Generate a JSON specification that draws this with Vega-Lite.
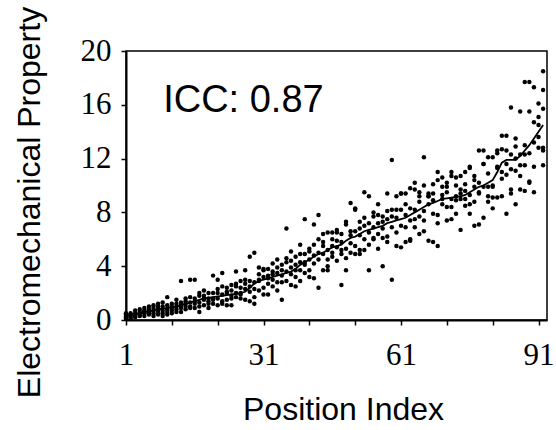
{
  "$schema": "https://vega.github.io/schema/vega-lite/v6.json",
  "width": 421,
  "height": 269,
  "autosize": {"type": "none"},
  "padding": {"left": 126, "top": 51, "right": 9, "bottom": 110},
  "background": "white",
  "config": {
    "view": {"stroke": "black", "strokeWidth": 1.5},
    "axis": {"grid": false, "domainColor": "black", "domainWidth": 2, "tickColor": "black", "tickWidth": 1.5, "tickSize": 5,
      "labelFont": "Liberation Serif", "labelFontSize": 31, "labelColor": "black",
      "titleFont": "Liberation Sans", "titleFontSize": 32, "titleFontWeight": "normal", "titleColor": "black"}
  },
  "datasets": {
    "pts": [
      {"x":1,"y":0.1},{"x":1,"y":0.2},{"x":1,"y":0.3},{"x":1,"y":0.4},{"x":1,"y":0.5},
      {"x":2,"y":0.1},{"x":2,"y":0.3},{"x":2,"y":0.4},{"x":2,"y":0.5},{"x":2,"y":0.2},
      {"x":3,"y":0.2},{"x":3,"y":0.4},{"x":3,"y":0.5},{"x":3,"y":0.7},{"x":3,"y":0.3},
      {"x":4,"y":0.3},{"x":4,"y":0.5},{"x":4,"y":0.6},{"x":4,"y":0.8},{"x":4,"y":0.4},
      {"x":5,"y":0.3},{"x":5,"y":0.5},{"x":5,"y":0.7},{"x":5,"y":0.9},{"x":5,"y":0.6},
      {"x":6,"y":0.4},{"x":6,"y":0.6},{"x":6,"y":0.8},{"x":6,"y":1.0},{"x":6,"y":0.5},
      {"x":7,"y":0.5},{"x":7,"y":0.7},{"x":7,"y":0.9},{"x":7,"y":1.1},{"x":7,"y":0.3},
      {"x":8,"y":0.4},{"x":8,"y":0.8},{"x":8,"y":1.0},{"x":8,"y":1.2},{"x":8,"y":0.6},
      {"x":9,"y":0.5},{"x":9,"y":0.7},{"x":9,"y":1.0},{"x":9,"y":1.3},{"x":9,"y":0.3},
      {"x":10,"y":0.6},{"x":10,"y":0.8},{"x":10,"y":1.1},{"x":10,"y":1.7},{"x":10,"y":0.4},
      {"x":11,"y":0.7},{"x":11,"y":0.9},{"x":11,"y":1.2},{"x":11,"y":0.5},{"x":11,"y":1.0},
      {"x":12,"y":0.8},{"x":12,"y":1.0},{"x":12,"y":1.5},{"x":12,"y":0.6},{"x":12,"y":1.2},
      {"x":13,"y":0.6},{"x":13,"y":1.1},{"x":13,"y":1.3},{"x":13,"y":2.9},{"x":13,"y":0.9},
      {"x":14,"y":0.8},{"x":14,"y":1.2},{"x":14,"y":1.6},{"x":14,"y":1.0},{"x":14,"y":1.4},
      {"x":15,"y":1.0},{"x":15,"y":1.3},{"x":15,"y":1.7},{"x":15,"y":3.0},{"x":15,"y":0.9},
      {"x":16,"y":0.9},{"x":16,"y":1.2},{"x":16,"y":1.6},{"x":16,"y":3.0},{"x":16,"y":1.4},
      {"x":17,"y":0.6},{"x":17,"y":1.3},{"x":17,"y":1.8},{"x":17,"y":2.0},{"x":17,"y":1.0},
      {"x":18,"y":1.1},{"x":18,"y":1.5},{"x":18,"y":1.8},{"x":18,"y":1.6},{"x":18,"y":2.2},
      {"x":19,"y":1.2},{"x":19,"y":1.6},{"x":19,"y":2.0},{"x":19,"y":1.4},{"x":19,"y":0.9},
      {"x":20,"y":1.2},{"x":20,"y":1.6},{"x":20,"y":2.0},{"x":20,"y":3.3},{"x":20,"y":1.5},
      {"x":21,"y":1.1},{"x":21,"y":2.0},{"x":21,"y":3.0},{"x":21,"y":1.6},{"x":21,"y":2.3},
      {"x":22,"y":1.4},{"x":22,"y":2.5},{"x":22,"y":3.5},{"x":22,"y":1.9},{"x":22,"y":1.2},
      {"x":23,"y":1.5},{"x":23,"y":2.1},{"x":23,"y":2.4},{"x":23,"y":2.0},{"x":23,"y":1.1},
      {"x":24,"y":1.1},{"x":24,"y":1.6},{"x":24,"y":2.6},{"x":24,"y":2.2},{"x":24,"y":1.8},
      {"x":25,"y":2.0},{"x":25,"y":3.6},{"x":25,"y":1.7},{"x":25,"y":2.5},{"x":25,"y":2.7},
      {"x":26,"y":1.6},{"x":26,"y":2.4},{"x":26,"y":2.9},{"x":26,"y":2.0},{"x":26,"y":1.9},
      {"x":27,"y":1.5},{"x":27,"y":3.0},{"x":27,"y":3.7},{"x":27,"y":2.3},{"x":27,"y":2.7},
      {"x":28,"y":1.4},{"x":28,"y":2.5},{"x":28,"y":4.7},{"x":28,"y":2.1},{"x":28,"y":2.9},
      {"x":29,"y":1.2},{"x":29,"y":1.7},{"x":29,"y":5.0},{"x":29,"y":2.8},{"x":29,"y":2.3},
      {"x":30,"y":2.9},{"x":30,"y":3.0},{"x":30,"y":3.4},{"x":30,"y":2.2},{"x":30,"y":3.9},
      {"x":31,"y":3.7},{"x":31,"y":2.4},{"x":31,"y":3.8},{"x":31,"y":1.9},{"x":31,"y":3.2},
      {"x":32,"y":3.3},{"x":32,"y":3.8},{"x":32,"y":3.1},{"x":32,"y":1.9},{"x":32,"y":2.7},
      {"x":33,"y":3.0},{"x":33,"y":3.6},{"x":33,"y":2.5},{"x":33,"y":4.2},{"x":33,"y":3.4},
      {"x":34,"y":2.2},{"x":34,"y":4.5},{"x":34,"y":3.5},{"x":34,"y":2.8},{"x":34,"y":3.9},
      {"x":35,"y":1.5},{"x":35,"y":2.8},{"x":35,"y":3.7},{"x":35,"y":4.1},{"x":35,"y":3.3},
      {"x":36,"y":6.8},{"x":36,"y":4.3},{"x":36,"y":2.9},{"x":36,"y":3.6},{"x":36,"y":4.6},
      {"x":37,"y":5.1},{"x":37,"y":2.6},{"x":37,"y":3.9},{"x":37,"y":3.4},{"x":37,"y":4.4},
      {"x":38,"y":3.2},{"x":38,"y":4.7},{"x":38,"y":3.7},{"x":38,"y":2.5},{"x":38,"y":4.1},
      {"x":39,"y":5.6},{"x":39,"y":3.7},{"x":39,"y":2.9},{"x":39,"y":4.3},{"x":39,"y":4.9},
      {"x":40,"y":7.5},{"x":40,"y":4.3},{"x":40,"y":3.5},{"x":40,"y":4.9},{"x":40,"y":4.1},
      {"x":41,"y":5.3},{"x":41,"y":5.1},{"x":41,"y":3.7},{"x":41,"y":4.5},{"x":41,"y":3.2},
      {"x":42,"y":7.1},{"x":42,"y":4.8},{"x":42,"y":3.1},{"x":42,"y":5.6},{"x":42,"y":4.2},
      {"x":43,"y":7.8},{"x":43,"y":6.0},{"x":43,"y":4.5},{"x":43,"y":2.4},{"x":43,"y":5.0},
      {"x":44,"y":6.4},{"x":44,"y":5.5},{"x":44,"y":3.7},{"x":44,"y":4.9},{"x":44,"y":5.8},
      {"x":45,"y":6.5},{"x":45,"y":4.5},{"x":45,"y":3.7},{"x":45,"y":5.2},{"x":45,"y":4.0},
      {"x":46,"y":6.5},{"x":46,"y":5.5},{"x":46,"y":4.7},{"x":46,"y":6.0},{"x":46,"y":5.0},
      {"x":47,"y":6.5},{"x":47,"y":5.4},{"x":47,"y":6.7},{"x":47,"y":4.4},{"x":47,"y":5.9},
      {"x":48,"y":6.4},{"x":48,"y":2.6},{"x":48,"y":5.2},{"x":48,"y":5.8},{"x":48,"y":4.9},
      {"x":49,"y":7.3},{"x":49,"y":7.1},{"x":49,"y":4.6},{"x":49,"y":3.7},{"x":49,"y":5.3},
      {"x":50,"y":8.7},{"x":50,"y":5.7},{"x":50,"y":6.3},{"x":50,"y":5.0},{"x":50,"y":6.6},
      {"x":51,"y":5.5},{"x":51,"y":8.3},{"x":51,"y":8.2},{"x":51,"y":4.9},{"x":51,"y":6.6},
      {"x":52,"y":6.3},{"x":52,"y":7.3},{"x":52,"y":5.2},{"x":52,"y":4.9},{"x":52,"y":6.8},
      {"x":53,"y":9.5},{"x":53,"y":5.2},{"x":53,"y":6.0},{"x":53,"y":7.0},{"x":53,"y":7.6},
      {"x":54,"y":9.2},{"x":54,"y":7.2},{"x":54,"y":5.6},{"x":54,"y":3.7},{"x":54,"y":6.5},
      {"x":55,"y":7.7},{"x":55,"y":6.0},{"x":55,"y":6.1},{"x":55,"y":6.9},{"x":55,"y":8.0},
      {"x":56,"y":7.8},{"x":56,"y":6.4},{"x":56,"y":5.3},{"x":56,"y":7.2},{"x":56,"y":8.6},
      {"x":57,"y":7.7},{"x":57,"y":4.0},{"x":57,"y":6.8},{"x":57,"y":7.3},{"x":57,"y":6.1},
      {"x":58,"y":8.1},{"x":58,"y":9.4},{"x":58,"y":6.2},{"x":58,"y":5.8},{"x":58,"y":7.5},
      {"x":59,"y":8.2},{"x":59,"y":11.9},{"x":59,"y":3.0},{"x":59,"y":6.9},{"x":59,"y":7.7},
      {"x":60,"y":8.2},{"x":60,"y":6.5},{"x":60,"y":7.6},{"x":60,"y":5.5},{"x":60,"y":9.2},
      {"x":61,"y":8.2},{"x":61,"y":5.4},{"x":61,"y":9.4},{"x":61,"y":9.4},{"x":61,"y":7.0},
      {"x":62,"y":9.4},{"x":62,"y":5.8},{"x":62,"y":7.8},{"x":62,"y":8.6},{"x":62,"y":6.9},
      {"x":63,"y":9.8},{"x":63,"y":5.9},{"x":63,"y":6.0},{"x":63,"y":8.3},{"x":63,"y":7.4},
      {"x":64,"y":9.7},{"x":64,"y":10.2},{"x":64,"y":6.9},{"x":64,"y":8.2},{"x":64,"y":7.5},
      {"x":65,"y":6.4},{"x":65,"y":9.2},{"x":65,"y":9.5},{"x":65,"y":8.8},{"x":65,"y":7.7},
      {"x":66,"y":7.4},{"x":66,"y":10.0},{"x":66,"y":12.1},{"x":66,"y":6.6},{"x":66,"y":8.1},
      {"x":67,"y":5.9},{"x":67,"y":9.2},{"x":67,"y":9.2},{"x":67,"y":8.6},{"x":67,"y":9.4},
      {"x":68,"y":5.8},{"x":68,"y":9.4},{"x":68,"y":8.9},{"x":68,"y":7.9},{"x":68,"y":10.1},
      {"x":69,"y":11.0},{"x":69,"y":5.5},{"x":69,"y":10.4},{"x":69,"y":7.8},{"x":69,"y":7.2},
      {"x":70,"y":9.9},{"x":70,"y":9.3},{"x":70,"y":8.6},{"x":70,"y":10.6},{"x":70,"y":9.0},
      {"x":71,"y":9.5},{"x":71,"y":9.9},{"x":71,"y":7.4},{"x":71,"y":8.4},{"x":71,"y":10.2},
      {"x":72,"y":7.5},{"x":72,"y":11.0},{"x":72,"y":10.7},{"x":72,"y":9.0},{"x":72,"y":8.4},
      {"x":73,"y":10.0},{"x":73,"y":10.6},{"x":73,"y":9.2},{"x":73,"y":8.9},{"x":73,"y":7.9},
      {"x":74,"y":6.7},{"x":74,"y":9.4},{"x":74,"y":10.7},{"x":74,"y":9.0},{"x":74,"y":9.7},
      {"x":75,"y":9.0},{"x":75,"y":8.5},{"x":75,"y":10.1},{"x":75,"y":9.6},{"x":75,"y":11.0},
      {"x":76,"y":11.3},{"x":76,"y":11.4},{"x":76,"y":8.6},{"x":76,"y":7.9},{"x":76,"y":9.3},
      {"x":77,"y":10.7},{"x":77,"y":9.9},{"x":77,"y":7.0},{"x":77,"y":10.4},{"x":77,"y":8.8},
      {"x":78,"y":12.6},{"x":78,"y":9.5},{"x":78,"y":9.4},{"x":78,"y":7.1},{"x":78,"y":10.2},
      {"x":79,"y":12.6},{"x":79,"y":11.6},{"x":79,"y":11.6},{"x":79,"y":7.6},{"x":79,"y":9.9},
      {"x":80,"y":9.9},{"x":80,"y":10.9},{"x":80,"y":12.1},{"x":80,"y":8.8},{"x":80,"y":9.2},
      {"x":81,"y":12.1},{"x":81,"y":10.0},{"x":81,"y":9.9},{"x":81,"y":8.3},{"x":81,"y":9.1},
      {"x":82,"y":12.4},{"x":82,"y":9.1},{"x":82,"y":11.4},{"x":82,"y":12.6},{"x":82,"y":11.3},
      {"x":83,"y":12.7},{"x":83,"y":13.7},{"x":83,"y":9.2},{"x":83,"y":11.0},{"x":83,"y":10.5},
      {"x":84,"y":13.7},{"x":84,"y":12.6},{"x":84,"y":7.9},{"x":84,"y":10.8},{"x":84,"y":11.6},
      {"x":85,"y":15.8},{"x":85,"y":12.3},{"x":85,"y":9.7},{"x":85,"y":9.4},{"x":85,"y":11.2},
      {"x":86,"y":13.5},{"x":86,"y":12.9},{"x":86,"y":8.6},{"x":86,"y":12.0},{"x":86,"y":11.1},
      {"x":87,"y":15.5},{"x":87,"y":9.7},{"x":87,"y":10.7},{"x":87,"y":12.3},{"x":87,"y":11.5},
      {"x":88,"y":17.7},{"x":88,"y":12.3},{"x":88,"y":9.6},{"x":88,"y":11.5},{"x":88,"y":13.0},
      {"x":89,"y":10.3},{"x":89,"y":15.5},{"x":89,"y":17.7},{"x":89,"y":10.2},{"x":89,"y":12.4},
      {"x":90,"y":17.3},{"x":90,"y":14.7},{"x":90,"y":11.4},{"x":90,"y":9.5},{"x":90,"y":13.2},
      {"x":91,"y":16.1},{"x":91,"y":15.1},{"x":91,"y":12.8},{"x":91,"y":13.6},{"x":91,"y":14.5},
      {"x":92,"y":12.8},{"x":92,"y":18.5},{"x":92,"y":15.7},{"x":92,"y":17.1},{"x":92,"y":12.6},{"x":92,"y":11.5}
    ],
    "mean": [
      {"x":1,"y":0.3},{"x":2,"y":0.35},{"x":3,"y":0.45},{"x":4,"y":0.5},{"x":5,"y":0.6},{"x":6,"y":0.65},{"x":7,"y":0.7},{"x":8,"y":0.8},{"x":9,"y":0.85},{"x":10,"y":0.9},
      {"x":11,"y":0.95},{"x":12,"y":1.0},{"x":13,"y":1.1},{"x":14,"y":1.2},{"x":15,"y":1.3},{"x":16,"y":1.4},{"x":17,"y":1.5},{"x":18,"y":1.6},{"x":19,"y":1.65},{"x":20,"y":1.7},
      {"x":21,"y":1.75},{"x":22,"y":1.8},{"x":23,"y":1.85},{"x":24,"y":1.9},{"x":25,"y":1.95},{"x":26,"y":2.0},{"x":27,"y":2.1},{"x":28,"y":2.4},{"x":29,"y":2.7},{"x":30,"y":2.9},
      {"x":31,"y":3.0},{"x":32,"y":3.1},{"x":33,"y":3.2},{"x":34,"y":3.3},{"x":35,"y":3.4},{"x":36,"y":3.5},{"x":37,"y":3.6},{"x":38,"y":3.8},{"x":39,"y":4.1},{"x":40,"y":4.3},
      {"x":41,"y":4.5},{"x":42,"y":4.7},{"x":43,"y":4.9},{"x":44,"y":5.0},{"x":45,"y":5.2},{"x":46,"y":5.4},{"x":47,"y":5.5},{"x":48,"y":5.6},{"x":49,"y":5.9},{"x":50,"y":6.1},
      {"x":51,"y":6.2},{"x":52,"y":6.4},{"x":53,"y":6.6},{"x":54,"y":6.7},{"x":55,"y":6.8},{"x":56,"y":6.9},{"x":57,"y":7.0},{"x":58,"y":7.2},{"x":59,"y":7.3},{"x":60,"y":7.4},
      {"x":61,"y":7.5},{"x":62,"y":7.6},{"x":63,"y":7.8},{"x":64,"y":8.0},{"x":65,"y":8.2},{"x":66,"y":8.4},{"x":67,"y":8.6},{"x":68,"y":8.7},{"x":69,"y":8.85},{"x":70,"y":9.0},
      {"x":71,"y":9.05},{"x":72,"y":9.1},{"x":73,"y":9.15},{"x":74,"y":9.2},{"x":75,"y":9.3},{"x":76,"y":9.5},{"x":77,"y":9.7},{"x":78,"y":9.9},{"x":79,"y":10.0},{"x":80,"y":10.2},
      {"x":81,"y":10.4},{"x":82,"y":11.0},{"x":83,"y":11.7},{"x":84,"y":11.9},{"x":85,"y":11.9},{"x":86,"y":11.9},{"x":87,"y":12.2},{"x":88,"y":12.6},{"x":89,"y":13.0},{"x":90,"y":13.5},
      {"x":91,"y":14.0},{"x":92,"y":14.5}
    ],
    "note": [{"x": 9.1, "y": 15.5, "label": "ICC: 0.87"}]
  },
  "layer": [
    {
      "data": {"name": "pts"},
      "mark": {"type": "point", "filled": true, "color": "black", "opacity": 1, "size": 20},
      "encoding": {
        "x": {"field": "x", "type": "quantitative",
          "scale": {"domain": [1, 92.85], "nice": false, "zero": false},
          "axis": {"title": "Position Index", "values": [1, 11, 21, 31, 41, 51, 61, 71, 81, 91],
            "labelExpr": "indexof([1, 31, 61, 91], datum.value) >= 0 ? datum.label : ''",
            "labelPadding": 15, "titlePadding": 24, "titleX": 217, "labelOverlap": false, "labelFlush": false}},
        "y": {"field": "y", "type": "quantitative",
          "scale": {"domain": [0, 20], "nice": false},
          "axis": {"title": "Electromechanical Property", "values": [0, 4, 8, 12, 16, 20],
            "labelPadding": 10, "titlePadding": 34, "titleY": 151}}
      }
    },
    {
      "data": {"name": "mean"},
      "mark": {"type": "line", "color": "black", "strokeWidth": 1.8},
      "encoding": {
        "x": {"field": "x", "type": "quantitative"},
        "y": {"field": "y", "type": "quantitative"}
      }
    },
    {
      "data": {"name": "note"},
      "mark": {"type": "text", "font": "Liberation Sans", "fontSize": 38, "align": "left", "baseline": "alphabetic", "color": "black"},
      "encoding": {
        "x": {"field": "x", "type": "quantitative"},
        "y": {"field": "y", "type": "quantitative"},
        "text": {"field": "label"}
      }
    }
  ]
}
